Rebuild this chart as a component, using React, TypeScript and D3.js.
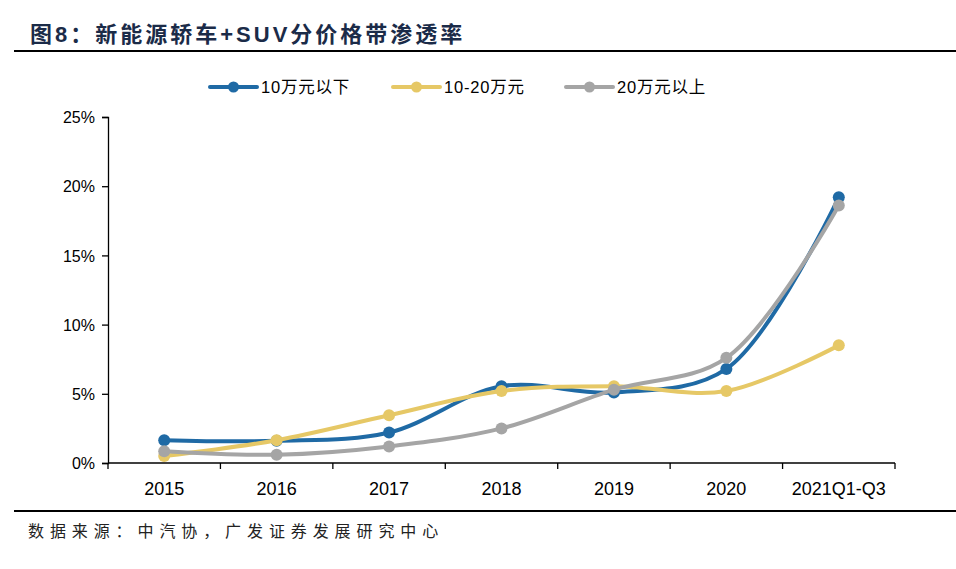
import { useEffect, useRef } from 'react';
import * as d3 from 'd3';

const categories = ['2015', '2016', '2017', '2018', '2019', '2020', '2021Q1-Q3'];
const under10 = [1.65, 1.6, 2.2, 5.55, 5.1, 6.8, 19.2];
const mid10to20 = [0.5, 1.65, 3.45, 5.2, 5.55, 5.2, 8.5];
const over20 = [0.85, 0.6, 1.2, 2.5, 5.3, 7.6, 18.6];
const yTicks = [0, 5, 10, 15, 20, 25];

const seriesNames = ['10万元以下', '10-20万元', '20万元以上'];
const seriesColors = ['#1f6aa5', '#e6c866', '#a5a5a5'];

const W = 956;
const H = 569;
const margin = { left: 108, right: 61, top: 117, bottom: 106 };

export default function App() {
  const svgRef = useRef<SVGSVGElement>(null);

  useEffect(() => {
    if (!svgRef.current) return;
    const svg = d3.select(svgRef.current);
    svg.selectAll('*').remove();

    const font = 'Liberation Sans, Arial, sans-serif';
    const cjk = '"Noto Sans CJK SC", sans-serif';

    // title
    svg.append('text')
      .attr('x', 30).attr('y', 42)
      .attr('font-family', `${font}, ${cjk}`)
      .attr('font-weight', 'bold').attr('font-size', 22)
      .attr('letter-spacing', 3)
      .attr('fill', '#1b2b48')
      .text('图8：新能源轿车+SUV分价格带渗透率');
    svg.append('line')
      .attr('x1', 14).attr('x2', W).attr('y1', 51).attr('y2', 51)
      .attr('stroke', '#000').attr('stroke-width', 2);
    svg.append('line')
      .attr('x1', 14).attr('x2', W).attr('y1', 511).attr('y2', 511)
      .attr('stroke', '#000').attr('stroke-width', 2);
    svg.append('text')
      .attr('x', 28).attr('y', 537)
      .attr('font-family', cjk).attr('font-size', 16)
      .attr('letter-spacing', 5.9)
      .attr('fill', '#222')
      .text('数据来源：中汽协，广发证券发展研究中心');

    const x = d3.scaleBand<string>()
      .domain(categories)
      .range([margin.left, W - margin.right]);
    const y = d3.scaleLinear().domain([0, 25]).range([H - margin.bottom, margin.top]);
    const y0 = H - margin.bottom;

    // y axis
    const yAxis = svg.append('g').attr('transform', `translate(${margin.left},0)`)
      .call(d3.axisLeft(y).tickValues(yTicks).tickSize(6).tickFormat((d) => `${d}%`));
    yAxis.select('.domain').attr('stroke', '#000').attr('stroke-width', 1.3);
    yAxis.selectAll('line').attr('stroke', '#000').attr('stroke-width', 1.3);
    yAxis.selectAll('text')
      .attr('font-family', font).attr('font-size', 16).attr('fill', '#000')
      .attr('x', -13).attr('dy', '0.35em');

    // x axis
    const xg = svg.append('g');
    xg.append('line')
      .attr('x1', margin.left).attr('x2', W - margin.right)
      .attr('y1', y0).attr('y2', y0)
      .attr('stroke', '#000').attr('stroke-width', 1.3);
    const bounds = categories.map((c) => x(c) as number).concat([W - margin.right]);
    xg.selectAll('line.tick').data(bounds).join('line')
      .attr('class', 'tick')
      .attr('x1', (d) => d).attr('x2', (d) => d)
      .attr('y1', y0).attr('y2', y0 + 6)
      .attr('stroke', '#000').attr('stroke-width', 1.3);
    xg.selectAll('text').data(categories).join('text')
      .attr('x', (d) => (x(d) as number) + x.bandwidth() / 2)
      .attr('y', 495)
      .attr('text-anchor', 'middle')
      .attr('font-family', font).attr('font-size', 18).attr('fill', '#000')
      .text((d) => d);

    // lines
    const allSeries = [under10, mid10to20, over20];
    const line = d3.line<number>()
      .x((_, i) => (x(categories[i]) as number) + x.bandwidth() / 2)
      .y((d) => y(d))
      .curve(d3.curveCatmullRom.alpha(0.5));

    allSeries.forEach((vals, si) => {
      const g = svg.append('g');
      g.append('path')
        .attr('d', line(vals))
        .attr('fill', 'none')
        .attr('stroke', seriesColors[si])
        .attr('stroke-width', 4)
        .attr('stroke-linecap', 'round');
      g.selectAll('circle').data(vals).join('circle')
        .attr('cx', (_, i) => (x(categories[i]) as number) + x.bandwidth() / 2)
        .attr('cy', (d) => y(d))
        .attr('r', 6)
        .attr('fill', seriesColors[si]);
    });

    // legend
    const legendX = [210, 393, 566];
    seriesNames.forEach((name, i) => {
      const lg = svg.append('g').attr('transform', `translate(${legendX[i]},87)`);
      lg.append('line')
        .attr('x1', 0).attr('x2', 47).attr('y1', 0).attr('y2', 0)
        .attr('stroke', seriesColors[i]).attr('stroke-width', 4)
        .attr('stroke-linecap', 'round');
      lg.append('circle').attr('cx', 23.5).attr('cy', 0).attr('r', 5.5)
        .attr('fill', seriesColors[i]);
      lg.append('text')
        .attr('x', 51).attr('y', 0).attr('dy', '0.36em')
        .attr('font-family', `${font}, ${cjk}`).attr('font-size', 16.5)
        .attr('letter-spacing', 0.8).attr('fill', '#000')
        .text(name);
    });
  }, []);

  return (
    <svg
      ref={svgRef}
      width={W}
      height={H}
      style={{ position: 'absolute', left: 0, top: 0, background: '#fff' }}
    />
  );
}
